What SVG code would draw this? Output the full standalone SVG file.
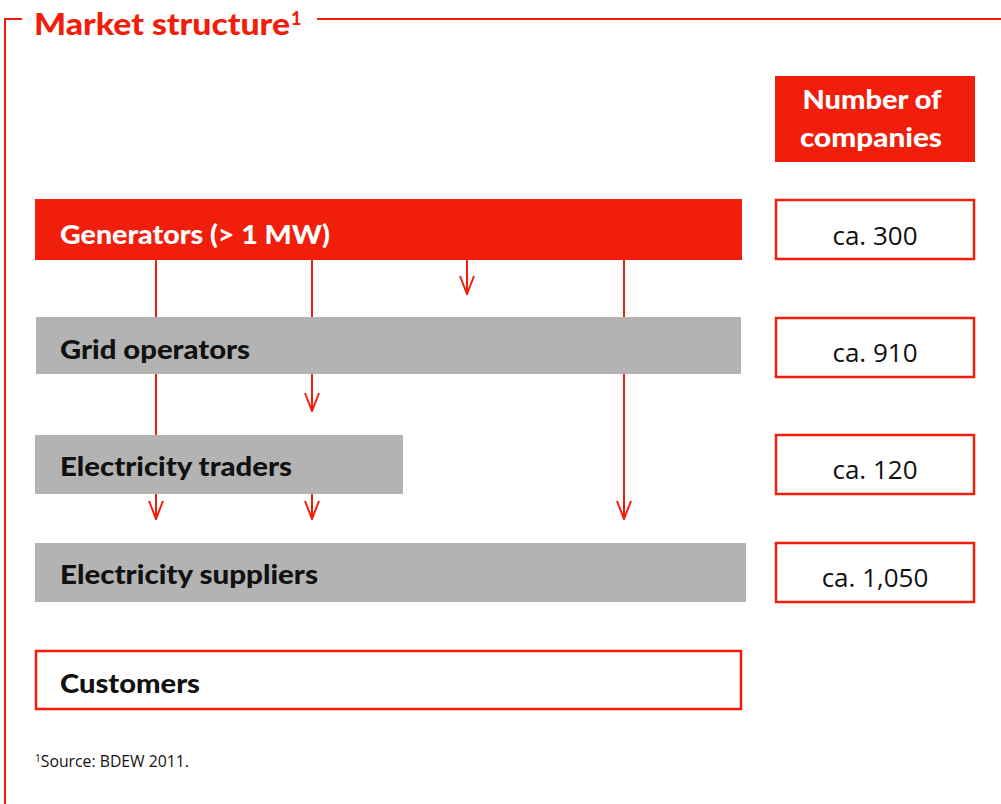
<svg xmlns="http://www.w3.org/2000/svg" width="1001" height="804" viewBox="0 0 1001 804">
<defs>
<style>
.red{fill:#F11E0B}
.gray{fill:#B3B3B3}
.outline{fill:#fff;stroke:#F11E0B;stroke-width:2.5}
.lbl{font-family:Lato,"Open Sans","Liberation Sans",sans-serif;font-weight:900;font-size:27px;fill:#111}
.wlbl{font-family:Lato,"Open Sans","Liberation Sans",sans-serif;font-weight:900;font-size:27px;fill:#fff}
.num{font-family:"Open Sans","Noto Sans","Liberation Sans",sans-serif;font-size:26px;fill:#111;text-anchor:middle}
.conn{stroke:#F11E0B;stroke-width:2;fill:none}
.frame{stroke:#F11E0B;stroke-width:2;fill:none}
</style>
<marker id="arr" viewBox="0 0 20 16" refX="19" refY="8" markerWidth="20" markerHeight="16" markerUnits="userSpaceOnUse" orient="auto">
<path d="M1,1 L19,8 L1,15" fill="none" stroke="#F11E0B" stroke-width="2"/>
</marker>
</defs>
<rect width="1001" height="804" fill="#fff"/>
<g id="frame">
<path class="frame" d="M5,804 L5,19 L22,19"/>
<path class="frame" d="M317,19 L1001,19"/>
<text x="34" y="35" font-family="Lato,'Open Sans','Liberation Sans',sans-serif" font-weight="900" font-size="31" fill="#F11E0B" textLength="256" lengthAdjust="spacingAndGlyphs">Market structure</text>
<text x="291" y="25" font-family="Lato,'Open Sans','Liberation Sans',sans-serif" font-weight="900" font-size="18" fill="#F11E0B">1</text>
</g>
<g id="connectors">
<line class="conn" x1="156" y1="260" x2="156" y2="317"/>
<line class="conn" x1="312" y1="260" x2="312" y2="317"/>
<line class="conn" x1="624" y1="260" x2="624" y2="317"/>
<line class="conn" x1="467" y1="260" x2="467" y2="294" marker-end="url(#arr)"/>
<line class="conn" x1="156" y1="374" x2="156" y2="435"/>
<line class="conn" x1="312" y1="374" x2="312" y2="411" marker-end="url(#arr)"/>
<line class="conn" x1="624" y1="374" x2="624" y2="519" marker-end="url(#arr)"/>
<line class="conn" x1="156" y1="494" x2="156" y2="519" marker-end="url(#arr)"/>
<line class="conn" x1="312" y1="494" x2="312" y2="519" marker-end="url(#arr)"/>
</g>
<g id="header">
<rect class="red" x="775" y="76" width="200" height="86"/>
<text class="wlbl" x="872" y="109" text-anchor="middle" textLength="139" lengthAdjust="spacingAndGlyphs">Number of</text>
<text class="wlbl" x="871" y="147" text-anchor="middle" textLength="142" lengthAdjust="spacingAndGlyphs">companies</text>
</g>
<g id="generators">
<rect class="red" x="35" y="199" width="707" height="61"/>
<text class="wlbl" x="60" y="244" textLength="270" lengthAdjust="spacingAndGlyphs">Generators (&gt; 1 MW)</text>
</g>
<g id="n300">
<rect class="outline" x="776" y="200" width="198" height="59"/>
<text class="num" x="875" y="245">ca. 300</text>
</g>
<g id="grid">
<rect class="gray" x="36" y="317" width="705" height="57"/>
<text class="lbl" x="60" y="359" textLength="190" lengthAdjust="spacingAndGlyphs">Grid operators</text>
</g>
<g id="n910">
<rect class="outline" x="776" y="318" width="198" height="59"/>
<text class="num" x="875" y="362">ca. 910</text>
</g>
<g id="traders">
<rect class="gray" x="35" y="435" width="368" height="59"/>
<text class="lbl" x="60" y="476" textLength="232" lengthAdjust="spacingAndGlyphs">Electricity traders</text>
</g>
<g id="n120">
<rect class="outline" x="776" y="435" width="198" height="59"/>
<text class="num" x="875" y="479">ca. 120</text>
</g>
<g id="suppliers">
<rect class="gray" x="35" y="543" width="711" height="59"/>
<text class="lbl" x="60" y="584" textLength="258" lengthAdjust="spacingAndGlyphs">Electricity suppliers</text>
</g>
<g id="n1050">
<rect class="outline" x="776" y="543" width="198" height="59"/>
<text class="num" x="875" y="587">ca. 1,050</text>
</g>
<g id="customers">
<rect class="outline" x="36" y="651" width="705" height="58"/>
<text class="lbl" x="60" y="693" textLength="140" lengthAdjust="spacingAndGlyphs">Customers</text>
</g>
<g id="footnote">
<text x="35" y="767" font-family="'Open Sans','Noto Sans','Liberation Sans',sans-serif" font-size="15.5" fill="#111" textLength="154" lengthAdjust="spacingAndGlyphs"><tspan font-size="10" dy="-5">1</tspan><tspan dy="5">Source: BDEW 2011.</tspan></text>
</g>
</svg>
